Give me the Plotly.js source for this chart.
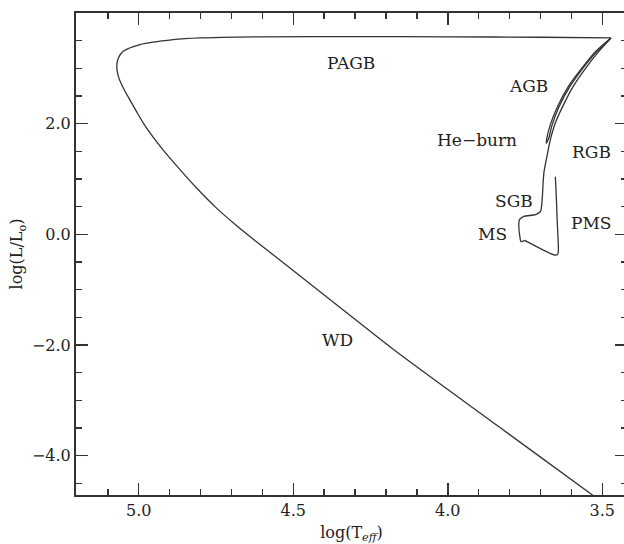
<!DOCTYPE html>
<html><head><meta charset="utf-8">
<script src="https://cdn.plot.ly/plotly-3.0.1.min.js"></script>
<style>html,body{margin:0;padding:0;overflow:hidden;background:#fff}</style>
</head><body><div id="chart" style="width:628px;height:544px"></div>
<script>
// Pre-main-sequence contraction
const pmsLogT = [3.652, 3.649, 3.646, 3.643, 3.642, 3.644, 3.652, 3.751];
const pmsLogL = [1.042, 0.717, 0.265, -0.097, -0.277, -0.359, -0.377, -0.109];
// Main sequence, sub-giant branch, red giant branch
const msRgbLogT = [3.751, 3.763, 3.767, 3.770, 3.768, 3.754, 3.716, 3.700, 3.695, 3.689, 3.679, 3.668, 3.652, 3.628, 3.594, 3.557, 3.512, 3.472];
const msRgbLogL = [-0.109, -0.130, -0.030, 0.144, 0.265, 0.325, 0.355, 0.415, 0.596, 1.109, 1.409, 1.711, 2.013, 2.313, 2.674, 2.976, 3.301, 3.549];
// Helium flash: tip of RGB back to core He burning
const flashLogT = [3.472, 3.522, 3.570, 3.610, 3.645, 3.668, 3.680, 3.681];
const flashLogL = [3.549, 3.301, 2.976, 2.669, 2.307, 1.982, 1.720, 1.645];
// Asymptotic giant branch
const agbLogT = [3.681, 3.676, 3.672, 3.662, 3.640, 3.605, 3.566, 3.518, 3.472];
const agbLogL = [1.645, 1.700, 1.760, 1.982, 2.307, 2.669, 2.976, 3.301, 3.549];
// Post-AGB and white dwarf cooling
const wdLogT = [3.472, 3.700, 4.000, 4.300, 4.600, 4.802, 4.888, 4.996, 5.050, 5.066, 5.071, 5.066, 5.050, 5.029, 5.007, 4.984, 4.957, 4.922, 4.875, 4.812, 4.749, 4.684, 4.620, 4.490, 4.329, 4.155, 3.832, 3.533, 3.476];
const wdLogL = [3.549, 3.562, 3.570, 3.574, 3.570, 3.549, 3.518, 3.428, 3.307, 3.187, 3.036, 2.855, 2.645, 2.434, 2.217, 2.000, 1.783, 1.530, 1.223, 0.832, 0.478, 0.160, -0.129, -0.697, -1.407, -2.168, -3.487, -4.705, -4.940];

// Phase labels
const phaseText = ['PAGB', 'AGB', 'He\u2212burn', 'RGB', 'SGB', 'PMS', 'MS', 'WD'];
const phaseLogT = [4.314, 3.738, 3.905, 3.534, 3.785, 3.534, 3.855, 4.356];
const phaseLogL = [3.097, 2.687, 1.711, 1.494, 0.608, 0.202, 0.012, -1.904];

// Tick labels
const xTickVals = [5.0, 4.5, 4.0, 3.5];
const xTickText = ['5.0', '4.5', '4.0', '3.5'];
const yTickVals = [-4, -2, 0, 2];
const yTickText = ['\u22124.0', '\u22122.0', '0.0', '2.0'];

const ink = '#333';
const lineStyle = {color: ink, width: 1.3, shape: 'spline', smoothing: 0.7};
const segs = [[pmsLogT, pmsLogL], [msRgbLogT, msRgbLogL], [flashLogT, flashLogL], [agbLogT, agbLogL], [wdLogT, wdLogL]];
const traces = segs.map(s => ({x: s[0], y: s[1], type: 'scatter', mode: 'lines', line: lineStyle, hoverinfo: 'skip'}));

const font = {family: 'DejaVu Serif, Liberation Serif, serif', size: 16, color: '#222'};
const annotations = phaseText.map((t, i) => ({
  x: phaseLogT[i], y: phaseLogL[i], xref: 'x', yref: 'y', text: t, showarrow: false,
  font: {family: font.family, size: 17, color: '#222'}, xanchor: 'center', yanchor: 'middle'
}));

const axisCommon = {
  ticks: 'inside', ticklen: 12, tickwidth: 1.5, tickcolor: ink,
  showline: true, linewidth: 2, linecolor: ink, mirror: 'ticks',
  showgrid: false, zeroline: false, tickfont: {family: font.family, size: 16, color: '#222'},
  automargin: false
};

const layout = {
  width: 628, height: 544,
  margin: {l: 76, r: 1, t: 13, b: 49},
  paper_bgcolor: '#fff', plot_bgcolor: '#fff', showlegend: false,
  font: font,
  xaxis: Object.assign({}, axisCommon, {
    range: [5.203, 3.420], tickmode: 'array', tickvals: xTickVals, ticktext: xTickText,
    minor: {tick0: 0, dtick: 0.1, ticks: 'inside', ticklen: 6, tickwidth: 1.5, tickcolor: ink, showgrid: false},
    title: {text: 'log(T<sub><i>eff</i></sub>)', standoff: 9, font: {family: font.family, size: 16, color: '#222'}}
  }),
  yaxis: Object.assign({}, axisCommon, {
    range: [-4.71, 4.0], tickmode: 'array', tickvals: yTickVals, ticktext: yTickText,
    minor: {tick0: 0, dtick: 0.5, ticks: 'inside', ticklen: 6, tickwidth: 1.5, tickcolor: ink, showgrid: false},
    title: {text: 'log(L/L<sub>o</sub>)', standoff: 5, font: {family: font.family, size: 16, color: '#222'}}
  }),
  annotations: annotations
};

Plotly.newPlot('chart', traces, layout, {staticPlot: true, displayModeBar: false});
</script>
</body></html>
